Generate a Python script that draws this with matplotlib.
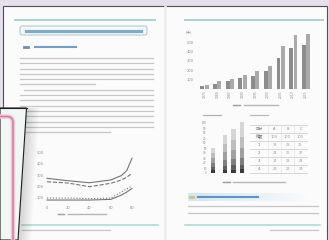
import numpy as np
import matplotlib.pyplot as plt
from matplotlib.patches import Rectangle, FancyBboxPatch, Polygon

W, H = 329, 240

# left page: line chart
line_x = [0, 20, 40, 60, 70, 75, 80]
line_a = [270, 248, 230, 255, 295, 340, 452]
line_b = [239, 227, 194, 225, 255, 280, 315]
line_c = [73, 73, 73, 79, 118, 145, 179]
line_d = [91, 91, 86, 91, 145, 173, 200]
line_xticks = [0, 20, 40, 60, 80]
line_yticks = [100, 200, 300, 400, 500]

# right page: grouped bar chart
bar_labels = ["1975", "1980", "1985", "1990", "1995", "2000", "2005", "2010", "2015"]
bar_a = [29, 57, 82, 118, 143, 189, 332, 439, 475]
bar_b = [46, 82, 107, 154, 189, 243, 457, 582, 590]
bar_yticks = [100, 200, 300, 400, 500]

# right page: stacked bars
stack_x = [0, 1.4, 2.4, 3.4]
stack_segments = [
    [6, 7, 7, 8],
    [6, 8, 9, 9],
    [8, 12, 13, 14],
    [10, 15, 17, 19],
    [10, 16, 20, 23],
    [10, 18, 23, 29],
]
stack_shades = ["#3a3a3a", "#5e5e5e", "#7f7f7f", "#a0a0a0", "#bdbdbd", "#d6d6d6"]

# right page: small table
table_header = ["区分", "A", "B", "C"]
table_rows = [
    ["総数", "100", "100", "100"],
    ["1", "32", "28", "25"],
    ["2", "24", "26", "27"],
    ["3", "21", "23", "24"],
    ["4", "23", "23", "24"],
]


def px_axes(fig, x0, y0, x1, y1):
    return fig.add_axes([x0 / W, 1 - y1 / H, (x1 - x0) / W, (y1 - y0) / H])


def clean(ax):
    for s in ax.spines.values():
        s.set_visible(False)
    ax.tick_params(length=0, pad=1, labelsize=2.6, colors="#8a8a8a")
    ax.set_facecolor("none")


fig = plt.figure(figsize=(W / 100, H / 100), dpi=100)
plt.rcParams['font.family'] = ['DejaVu Sans', 'Noto Sans CJK JP']

bg = fig.add_axes([0, 0, 1, 1])
bg.set_xlim(0, W)
bg.set_ylim(H, 0)
bg.axis("off")

# desk background and page
bg.add_patch(Rectangle((0, 0), W, H, color="#e5e0ec", zorder=0))
bg.add_patch(Rectangle((3, 6), 324, 240, facecolor="#fbfbfb", edgecolor="#505050", lw=0.8, zorder=1))
bg.plot([165, 165], [7, 240], color="#eeeeee", lw=2, zorder=1.5)

# teal rules at top and bottom of both pages
for x0, x1 in [(15, 155), (185, 323)]:
    bg.plot([x0, x1], [20, 20], color="#a8d4ce", lw=1.4, zorder=2)
for x0, x1 in [(22, 158), (185, 320)]:
    bg.plot([x0, x1], [225, 225], color="#a8d8cf", lw=1.1, zorder=2)

# left page title box and heading
bg.add_patch(FancyBboxPatch((20, 26), 127, 9, boxstyle="round,pad=0,rounding_size=2",
                            facecolor="#f3f7fa", edgecolor="#9bbdd0", lw=0.6, zorder=2))
bg.plot([26, 141], [30.5, 30.5], color="#7fabc8", lw=2.2, zorder=3)
bg.plot([24, 28], [47, 47], color="#6a8fb0", lw=2.0, zorder=3)
bg.plot([35, 76], [47, 47], color="#6f9fca", lw=1.5, zorder=3)

# left page body text rows
rows = np.arange(58, 135, 5.3)
for i, y in enumerate(rows):
    x0 = 20
    x1 = 153
    if i == 5:
        x1 = 95
    if i == 6:
        x0 = 24
    if i == len(rows) - 1:
        x1 = 110
    bg.plot([x0, x1], [y, y], color="#c8c8c8", lw=0.9, zorder=2)

# left chart caption and footer
bg.plot([58, 64], [214, 214], color="#9a9a9a", lw=1.0, zorder=2)
bg.plot([68, 106], [214, 214], color="#b5b5b5", lw=1.0, zorder=2)
bg.plot([22, 110], [230, 230], color="#c4c4c4", lw=0.9, zorder=2)

# right page bar chart caption and captions of the lower figure
bg.plot([233, 240], [105, 105], color="#9a9a9a", lw=1.0, zorder=2)
bg.plot([244, 278], [105, 105], color="#b5b5b5", lw=1.0, zorder=2)
bg.plot([203, 221], [115, 115], color="#b0b0b0", lw=0.9, zorder=2)
bg.plot([250, 268], [115, 115], color="#b8b8b8", lw=0.9, zorder=2)
bg.plot([223, 230], [182, 182], color="#9a9a9a", lw=1.0, zorder=2)
bg.plot([233, 285], [182, 182], color="#b5b5b5", lw=1.0, zorder=2)

# table
col_x = [250, 268, 281, 294, 307]
row_y = [125, 133, 141, 149, 157, 165, 173]
for y in row_y:
    bg.plot([col_x[0], col_x[-1]], [y, y], color="#c8c8c8", lw=0.5, zorder=2)
for x in col_x[1:-1]:
    bg.plot([x, x], [row_y[0], row_y[-1]], color="#dddddd", lw=0.4, zorder=2)
for j, t in enumerate(table_header):
    bg.text((col_x[j] + col_x[j + 1]) / 2, (row_y[0] + row_y[1]) / 2, t,
            fontsize=2.6, color="#888888", ha="center", va="center", zorder=3)
for i, row in enumerate(table_rows):
    yc = (row_y[i + 1] + row_y[i + 2]) / 2
    for j, t in enumerate(row):
        bg.text((col_x[j] + col_x[j + 1]) / 2, yc, t, fontsize=2.6,
                color="#666666" if j == 0 else "#9a9a9a",
                ha="center", va="center", zorder=3)

# section 2 heading with a pale fading band
band = np.zeros((1, 100, 4))
band[..., 0], band[..., 1], band[..., 2] = 0.80, 0.90, 0.96
band[..., 3] = np.linspace(0.9, 0.0, 100)
bg.imshow(band, extent=(188, 312, 201, 193), aspect="auto", zorder=2)
bg.plot([190, 193], [197, 197], color="#d8c070", lw=2.0, zorder=3)
bg.plot([198, 258], [197, 197], color="#5f95c6", lw=1.5, zorder=3)
bg.plot([188, 318], [206, 206], color="#c6c6c6", lw=0.9, zorder=2)
bg.plot([188, 318], [213, 213], color="#c6c6c6", lw=0.9, zorder=2)
bg.plot([270, 318], [230, 230], color="#c4c4c4", lw=0.9, zorder=2)

# overlapping sheet at lower left with its shadow
for k in range(12):
    d0, d1 = k * 1.1, (k + 1) * 1.1
    bg.add_patch(Polygon([(26.5 + d0, 108), (26.5 + d1, 108), (18 + d1, 240), (18 + d0, 240)],
                         closed=True, color="black", alpha=0.16 * (1 - k / 12), lw=0, zorder=4))
bg.add_patch(Polygon([(0, 108), (26.5, 108), (18, 240), (0, 240)], closed=True,
                     facecolor="#f1f7f5", edgecolor="#1e1e1e", lw=0.8, zorder=5))
bg.add_patch(FancyBboxPatch((-12, 116.5), 25, 140, boxstyle="round,pad=0,rounding_size=6",
                            facecolor="none", edgecolor="#f3c7d8", lw=3.2, zorder=6))
bg.add_patch(FancyBboxPatch((-12, 116.5), 25, 140, boxstyle="round,pad=0,rounding_size=6",
                            facecolor="none", edgecolor="#cf7e9e", lw=1.1, zorder=6))
bg.plot([0, 26.5], [108, 108], color="#1e1e1e", lw=0.8, zorder=6)

# ---- left page line chart
ax1 = px_axes(fig, 45, 150, 135, 205)
clean(ax1)
for ys, st in [(line_a, "-"), (line_b, "--"), (line_c, "-"), (line_d, ":")]:
    ax1.plot(line_x, ys, color="#747474", lw=0.8, ls=st)
ax1.set_xlim(-1.9, 82.8)
ax1.set_ylim(28, 527)
ax1.set_xticks(line_xticks)
ax1.set_yticks(line_yticks)
ax1.set_xticklabels([str(v) for v in line_xticks])
ax1.set_yticklabels([f"{v:,}" for v in line_yticks])

# ---- right page grouped bars
ax2 = px_axes(fig, 195, 33, 318, 89)
clean(ax2)
xb = np.arange(len(bar_labels))
ax2.bar(xb - 0.17, bar_a, width=0.3, color="#8c8c8c")
ax2.bar(xb + 0.17, bar_b, width=0.3, color="#aaaaaa")
ax2.set_xlim(-0.75, 8.95)
ax2.set_ylim(0, 600)
ax2.set_yticks(bar_yticks)
ax2.set_xticks(xb)
ax2.set_xticklabels(bar_labels, rotation=90)
ax2.tick_params(axis="x", labelsize=2.2)
ax2.text(-0.95, 600, "(千)", fontsize=2.6, color="#8a8a8a", ha="right", va="center")

# ---- right page stacked bars
ax3 = px_axes(fig, 208, 118, 246, 173)
clean(ax3)
bottom = np.zeros(len(stack_x))
for seg, shade in zip(stack_segments, stack_shades):
    ax3.bar(stack_x, seg, width=0.5, bottom=bottom, color=shade, lw=0)
    bottom += np.array(seg)
ax3.set_xlim(-0.63, 3.9)
ax3.set_ylim(0, 110)
ax3.set_yticks(range(0, 101, 10))
ax3.tick_params(labelsize=2.0)
ax3.set_xticks([])

fig.savefig("out.png", dpi=100)
